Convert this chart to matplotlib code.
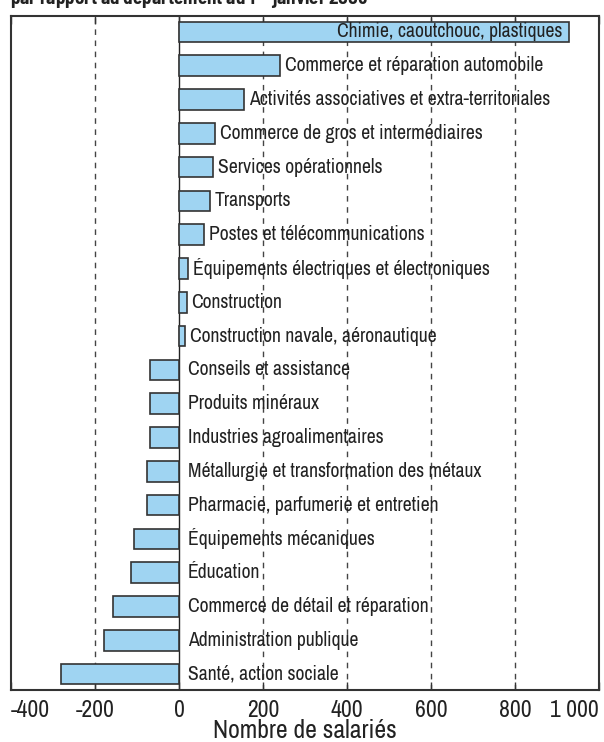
import matplotlib
matplotlib.use("Agg")
import matplotlib.pyplot as plt

plt.rcParams['font.family'] = ['Archivo Narrow', 'DejaVu Sans']

secteurs = [
    "Chimie, caoutchouc, plastiques",
    "Commerce et réparation automobile",
    "Activités associatives et extra-territoriales",
    "Commerce de gros et intermédiaires",
    "Services opérationnels",
    "Transports",
    "Postes et télécommunications",
    "Équipements électriques et électroniques",
    "Construction",
    "Construction navale, aéronautique",
    "Conseils et assistance",
    "Produits minéraux",
    "Industries agroalimentaires",
    "Métallurgie et transformation des métaux",
    "Pharmacie, parfumerie et entretien",
    "Équipements mécaniques",
    "Éducation",
    "Commerce de détail et réparation",
    "Administration publique",
    "Santé, action sociale",
]
ecarts = [929, 240, 155, 86, 82, 74, 60, 22, 18, 15,
          -68, -68, -68, -77, -77, -106, -115, -157, -179, -281]
ticks = [-400, -200, 0, 200, 400, 600, 800, 1000]
tick_labels = ["-400", "-200", "0", "200", "400", "600", "800", "1 000"]

fig = plt.figure(figsize=(6.04, 7.42), dpi=100)
ax = fig.add_axes([11 / 604, 52 / 742, 588 / 604, 674 / 742])

pos = list(range(len(secteurs)))
for x in [-200, 200, 400, 600, 800]:
    ax.axvline(x, color="#444444", lw=1, ls=(0, (4, 4)), zorder=0)
ax.axvline(0, color="#222222", lw=1, zorder=1)

ax.barh(pos, ecarts, height=0.61, color="#9fd4f2", edgecolor="#333333",
        linewidth=1.2, zorder=2)

for i, (nom, v) in enumerate(zip(secteurs, ecarts)):
    if v > 500:
        ax.annotate(nom, (v, i), xytext=(-5, 0), textcoords="offset points",
                    ha="right", va="center", fontsize=14.2, color="#222222", zorder=3)
    elif v > 0:
        ax.annotate(nom, (v, i), xytext=(3.6, 0), textcoords="offset points",
                    ha="left", va="center", fontsize=14.2, color="#222222", zorder=3)
    else:
        ax.annotate(nom, (0, i), xytext=(6.5, 0), textcoords="offset points",
                    ha="left", va="center", fontsize=14.2, color="#222222", zorder=3)

ax.set_xlim(-400, 1000)
ax.set_ylim(len(secteurs) - 0.53, -0.47)
ax.set_yticks([])
ax.set_xticks(ticks)
ax.set_xticklabels(tick_labels, fontsize=17, color="#222222")
labs = ax.get_xticklabels()
labs[0].set_ha("left")
labs[-1].set_ha("right")
ax.tick_params(axis="x", direction="in", length=6, top=True, width=1,
               color="#333333", pad=7)
for s in ax.spines.values():
    s.set_linewidth(1.5)
    s.set_color("#333333")
ax.set_xlabel("Nombre de salariés", fontsize=18.5, color="#222222", labelpad=-1)

fig.text(10 / 604, 1 - 5 / 742, "par rapport au département au 1$^{er}$ janvier 2005",
         fontsize=13.6, fontweight="bold", family=["Barlow Semi Condensed", "DejaVu Sans"],
         va="baseline", ha="left", color="#222222")

fig.savefig("out.png", dpi=100)
